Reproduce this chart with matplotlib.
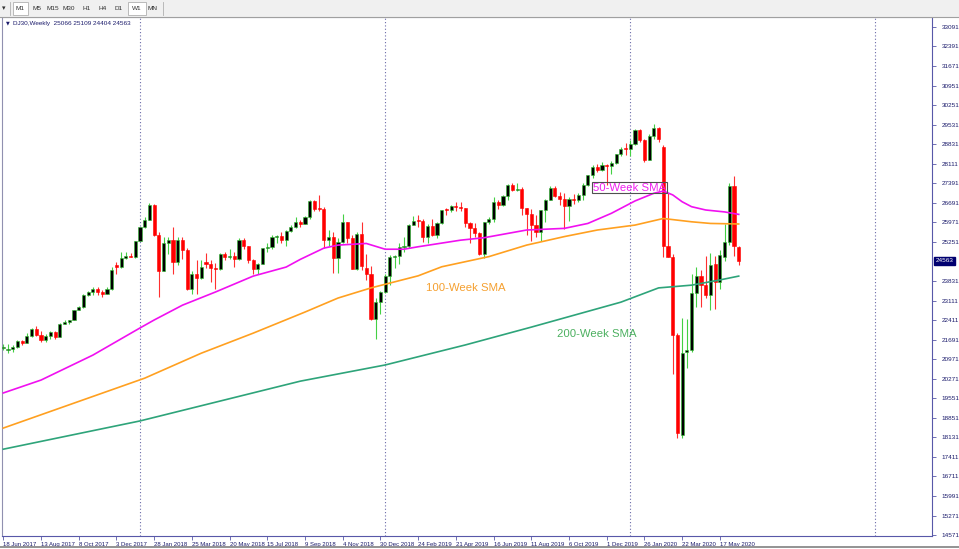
import numpy as np
import matplotlib.pyplot as plt
from matplotlib.patches import Rectangle
from matplotlib.lines import Line2D

# DJ30 weekly bars, first bar = week of 18 Jun 2017
opens = [21384, 21300, 21350, 21414, 21638, 21580, 21830, 22092, 21858, 21675,
         21814, 21988, 21798, 22268, 22350, 22405, 22774, 22872, 23329, 23434,
         23539, 23422, 23358, 23558, 24420, 24329, 24652, 24754, 24719, 25296,
         25803, 26072, 26617, 25521, 24191, 25219, 25310, 24538, 25336, 24947,
         23533, 24103, 23933, 24540, 24463, 24311, 24263, 24831, 24715, 24753,
         24635, 25317, 25090, 24581, 24271, 24456, 25019, 25058, 25451, 25463,
         25313, 25669, 25790, 25965, 25917, 26155, 26744, 26458, 26447, 25340,
         25444, 24688, 25271, 25989, 25413, 24286, 25538, 24300, 24100, 22445,
         23062, 23433, 23996, 24706, 24737, 25064, 25106, 25883, 26031, 26026,
         25450, 25849, 25502, 25929, 26425, 26412, 26559, 26543, 26505, 25942,
         25764, 25586, 24815, 25984, 26090, 26719, 26600, 26922, 27332, 27154,
         27192, 26485, 26287, 25886, 25629, 26403, 26797, 27220, 26935, 26820,
         26573, 26817, 26770, 26958, 27347, 27681, 28005, 27876, 28051, 28015,
         28135, 28455, 28645, 28634, 28823, 29348, 28990, 28256, 29103, 29398,
         28700, 25100, 24720, 21860, 18220, 21250, 21330, 23380, 24000, 23680,
         23330, 24450, 23780, 24700, 25260, 27290, 25066]
highs = [21535, 21529, 21480, 21681, 21681, 21929, 22100, 22179, 22002, 21900,
         22016, 22000, 22285, 22419, 22420, 22777, 22905, 23368, 23485, 23602,
         23602, 23500, 23600, 24327, 24534, 24876, 24876, 24850, 25300, 25810,
         26153, 26680, 26650, 25600, 25430, 25450, 25800, 25450, 25450, 25040,
         24200, 24580, 24580, 24858, 24600, 24480, 24867, 24900, 24980, 24900,
         25400, 25400, 25100, 24650, 24480, 25020, 25200, 25500, 25500, 25600,
         25700, 25860, 26170, 26070, 26200, 26770, 26770, 26951, 26520, 25700,
         25600, 25400, 26280, 26000, 25500, 25600, 25980, 24800, 24390, 23200,
         23480, 24070, 24770, 24780, 25200, 25450, 25900, 26200, 26240, 26090,
         25900, 26100, 25970, 26430, 26480, 26600, 26700, 26700, 26510, 26000,
         25950, 25600, 26000, 26180, 26910, 26800, 26970, 27360, 27400, 27400,
         27250, 26500, 26450, 26250, 26420, 26830, 27300, 27310, 27080, 27050,
         26900, 27000, 27050, 27400, 27700, 28050, 28100, 28170, 28100, 28200,
         28470, 28700, 28870, 28960, 29374, 29373, 29000, 29180, 29568, 29450,
         28800, 27040, 24800, 21950, 22500, 22450, 24100, 24350, 24250, 24760,
         24850, 24750, 24960, 25900, 27400, 27660, 25109]
lows = [21329, 21197, 21245, 21390, 21510, 21556, 21800, 21844, 21600, 21600,
        21720, 21709, 21790, 22260, 22250, 22400, 22760, 22850, 23270, 23330,
        23330, 23242, 23355, 23500, 24100, 24320, 24640, 24700, 24660, 25280,
        25780, 26050, 25490, 23250, 24180, 24830, 24080, 24430, 24640, 23510,
        23340, 23340, 23900, 24300, 23780, 23530, 24250, 24580, 24640, 24360,
        24600, 24990, 24480, 24080, 24100, 24440, 24900, 24980, 25200, 25200,
        25100, 25600, 25780, 25800, 25900, 26100, 26400, 26400, 25040, 25100,
        24120, 24120, 25200, 25200, 24270, 24240, 24240, 23880, 22400, 21710,
        22640, 23400, 23700, 24320, 24440, 24880, 25030, 25860, 25810, 25250,
        25200, 25460, 25400, 25900, 26240, 26350, 26370, 26400, 25800, 25200,
        25450, 24780, 24680, 25900, 26000, 26450, 26580, 26800, 27100, 27100,
        26250, 25500, 25300, 25450, 25300, 25980, 26800, 26900, 26600, 25740,
        26030, 26650, 26700, 26800, 27300, 27600, 27800, 27850, 27325, 27750,
        28100, 28400, 28420, 28400, 28800, 28900, 28170, 28250, 29000, 28900,
        24700, 24700, 20450, 18100, 18100, 20650, 21250, 22900, 22900, 23200,
        22780, 22800, 23550, 24550, 25150, 24750, 24404]
closes = [21395, 21350, 21414, 21638, 21580, 21830, 22092, 21858, 21675, 21814,
          21988, 21798, 22268, 22350, 22405, 22774, 22872, 23329, 23434, 23539,
          23422, 23358, 23558, 24232, 24329, 24652, 24754, 24719, 25296, 25803,
          26072, 26617, 25521, 24191, 25219, 25310, 24538, 25336, 24947, 23533,
          24103, 23933, 24360, 24463, 24311, 24263, 24831, 24715, 24753, 24635,
          25317, 25090, 24581, 24271, 24456, 25019, 25058, 25451, 25463, 25313,
          25669, 25790, 25965, 25917, 26155, 26744, 26458, 26447, 25340, 25444,
          24688, 25271, 25989, 25413, 24286, 25538, 24389, 24100, 22445, 23062,
          23433, 23996, 24706, 24737, 25064, 25106, 25883, 26031, 26026, 25450,
          25849, 25502, 25929, 26425, 26412, 26559, 26543, 26505, 25942, 25764,
          25586, 24815, 25984, 26090, 26719, 26600, 26922, 27332, 27154, 27192,
          26485, 26287, 25886, 25629, 26403, 26797, 27220, 26935, 26820, 26573,
          26817, 26770, 26958, 27347, 27681, 28005, 27876, 28051, 28015, 28135,
          28455, 28645, 28634, 28823, 29348, 28990, 28256, 29103, 29398, 28992,
          25100, 24720, 21860, 18290, 21200, 21320, 23380, 24020, 23690, 23320,
          24410, 23800, 24780, 25260, 27290, 25100, 24563]

# moving averages (bar index, value)
sma50_idx = [0, 8, 19, 29, 32, 38, 45, 53, 60, 63, 68, 71, 77, 81, 85, 88, 97, 102,
             111, 119, 124, 129, 134, 138, 140, 142, 144, 146, 149, 153, 156]
sma50_val = [19750, 20220, 21130, 22120, 22410, 22950, 23430, 24010, 24340, 24620,
             25030, 25140, 25200, 24990, 24990, 25080, 25320, 25410, 25690, 25750,
             25930, 26300, 26750, 27030, 27110, 26970, 26720, 26540, 26420, 26350, 26260]
sma100_idx = [0, 30, 42, 53, 64, 71, 78, 88, 93, 103, 111, 119, 126, 134, 140,
              146, 150, 156]
sma100_val = [18470, 20290, 21200, 21930, 22700, 23210, 23580, 24020, 24350, 24720,
              25140, 25450, 25690, 25870, 26110, 25990, 25930, 25910]
sma200_idx = [0, 29, 63, 81, 98, 112, 131, 139, 146, 152, 156]
sma200_val = [17700, 18730, 20180, 20770, 21500, 22150, 23060, 23580, 23680, 23870, 24010]

ytick_vals = [33091, 32391, 31671, 30951, 30251, 29531, 28831, 28111, 27391, 26691,
              25971, 25251, 23831, 23111, 22411, 21691, 20971, 20271, 19551, 18851,
              18131, 17411, 16711, 15991, 15271, 14571]
xtick_labels = ['18 Jun 2017', '13 Aug 2017', '8 Oct 2017', '3 Dec 2017', '28 Jan 2018',
                '25 Mar 2018', '20 May 2018', '15 Jul 2018', '9 Sep 2018', '4 Nov 2018',
                '30 Dec 2018', '24 Feb 2019', '21 Apr 2019', '16 Jun 2019', '11 Aug 2019',
                '6 Oct 2019', '1 Dec 2019', '26 Jan 2020', '22 Mar 2020', '17 May 2020']
separators = [29, 81, 133, 185]   # first bar of each year
last_price = 24563

axis_col = '#5858a8'
lab_col = '#1c1c6c'
W, H = 959, 549

fig = plt.figure(figsize=(W / 100, H / 100), dpi=100)
fig.patch.set_facecolor('white')

# toolbar strip
fig.add_artist(Rectangle((0, 1 - 17 / H), 1, 17 / H, transform=fig.transFigure,
                         facecolor='#f0f0f0', edgecolor='none'))
fig.add_artist(Line2D([0, 1], [1 - 17 / H, 1 - 17 / H], transform=fig.transFigure,
                      color='#a0a0a0', lw=0.8))
for bx in [(13, 28), (128, 146)]:
    fig.add_artist(Rectangle((bx[0] / W, 1 - 15 / H), (bx[1] - bx[0]) / W, 13 / H,
                             transform=fig.transFigure, facecolor='white',
                             edgecolor='#b0b0b0', lw=0.6))
fig.add_artist(Line2D([10 / W, 10 / W], [1 - 15 / H, 1 - 2 / H], transform=fig.transFigure,
                      color='#b0b0b0', lw=0.6))
fig.add_artist(Line2D([163 / W, 163 / W], [1 - 15 / H, 1 - 2 / H], transform=fig.transFigure,
                      color='#b0b0b0', lw=0.6))
fig.text(2 / W, 1 - 8.5 / H, '▾', fontsize=5, va='center', ha='left', color='#303030')
for name, bx in zip(['M1', 'M5', 'M15', 'M30', 'H1', 'H4', 'D1', 'W1', 'MN'],
                    [20, 37, 53, 69, 87, 103, 119, 137, 153]):
    fig.text(bx / W, 1 - 8.5 / H, name, fontsize=4.6, va='center', ha='center',
             color='#303030', family='Liberation Sans')
fig.add_artist(Line2D([0, 1], [2 / H, 2 / H], transform=fig.transFigure,
                      color='#808080', lw=1.2))

ax = fig.add_axes([2 / W, (H - 536) / H, (932 - 2) / W, (536 - 17) / H])
ax.set_facecolor('white')

idx = np.arange(len(closes))
o = np.array(opens, float)
hi = np.array(highs, float)
lo = np.array(lows, float)
c = np.array(closes, float)
up = c >= o

ax.vlines(idx[up], lo[up], hi[up], color='#44d044', lw=0.8, zorder=2)
ax.vlines(idx[~up], lo[~up], hi[~up], color='#ff3030', lw=0.8, zorder=2)
body_low = np.minimum(o, c)
body_h = np.maximum(np.abs(c - o), 35)
ax.bar(idx[up], body_h[up], 0.66, bottom=body_low[up], color='black',
       edgecolor='#30c030', linewidth=0.4, zorder=3)
ax.bar(idx[~up], body_h[~up], 0.66, bottom=body_low[~up], color='#ff0000',
       edgecolor='#ff0000', linewidth=0.4, zorder=3)

ax.plot(sma50_idx, sma50_val, color='#f010f0', lw=1.2, zorder=4)
ax.plot(sma100_idx, sma100_val, color='#ffa020', lw=1.2, zorder=4)
ax.plot(sma200_idx, sma200_val, color='#2ea47a', lw=1.2, zorder=4)

for s in separators:
    ax.axvline(s, color='#6a6aa8', ls=(0, (1, 2)), lw=0.8, zorder=1)

ax.text(125.1, 27240, '50-Week SMA', color='#f020f0', fontsize=8.2, va='center',
        ha='left', family='Liberation Sans', zorder=5,
        bbox=dict(boxstyle='square,pad=0.05', fc='none', ec='#505050', lw=0.8))
ax.text(89.6, 23575, '100-Week SMA', color='#f5a030', fontsize=8.2, va='center',
        ha='left', family='Liberation Sans', zorder=5)
ax.text(117.4, 21900, '200-Week SMA', color='#4cb060', fontsize=8.2, va='center',
        ha='left', family='Liberation Sans', zorder=5)

ax.set_xlim(-0.28, 197.0)
ax.set_ylim(14535, 33456)

ax.yaxis.tick_right()
ax.set_yticks(ytick_vals)
ax.set_yticklabels([str(v) for v in ytick_vals])
ax.tick_params(axis='y', direction='out', length=3, width=0.6, color=axis_col,
               labelsize=4.6, labelcolor=lab_col, pad=4)
ax.set_xticks(np.arange(0, 8 * len(xtick_labels), 8))
ax.set_xticklabels(xtick_labels)
ax.tick_params(axis='x', direction='out', length=3, width=0.6, color=axis_col,
               labelsize=4.3, labelcolor=lab_col, pad=1.0)
for lbl in ax.get_xticklabels():
    lbl.set_horizontalalignment('left')
    lbl.set_family('Liberation Sans')
for lbl in ax.get_yticklabels():
    lbl.set_family('Liberation Sans')

for side in ['right', 'bottom']:
    ax.spines[side].set_color(axis_col)
    ax.spines[side].set_linewidth(0.8)
for side in ['left', 'top']:
    ax.spines[side].set_color('#9090b0')
    ax.spines[side].set_linewidth(0.8)

# current price tag on the price scale
ax.text(1.004, last_price, str(last_price), transform=ax.get_yaxis_transform(),
        fontsize=4.6, color='white', va='center', ha='left', family='Liberation Sans',
        bbox=dict(boxstyle='square,pad=0.25', fc='#000070', ec='#000070'), zorder=6)

# symbol header
ax.text(0.004, 0.988, '▼', transform=ax.transAxes, fontsize=3.5, color=lab_col,
        va='center', ha='left')
ax.text(0.012, 0.988, 'DJ30,Weekly  25066 25109 24404 24563', transform=ax.transAxes,
        fontsize=4.6, color=lab_col, va='center', ha='left', family='Liberation Sans')

fig.savefig('out.png', dpi=100)
